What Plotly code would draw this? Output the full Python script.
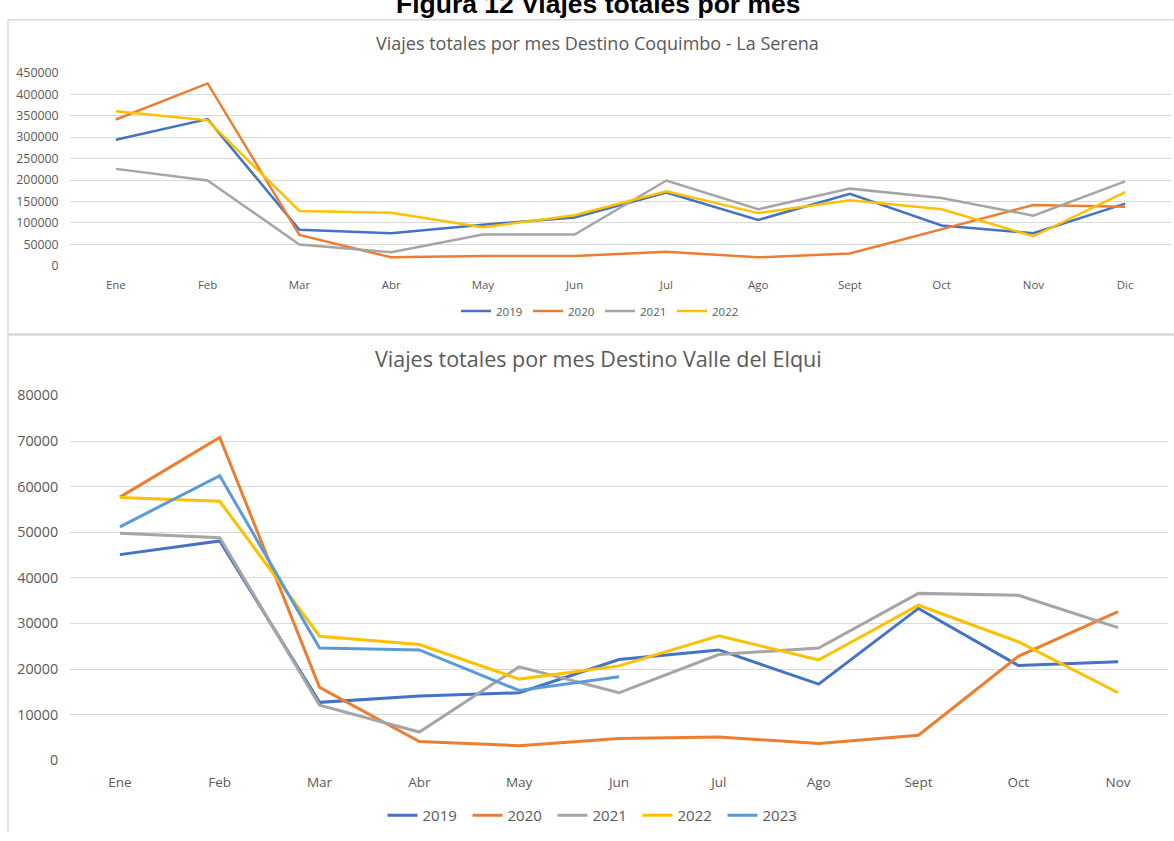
import plotly.graph_objects as go

W, H = 1174, 841

# ---------------- Data ----------------
meses_top = ["Ene", "Feb", "Mar", "Abr", "May", "Jun", "Jul", "Ago", "Sept", "Oct", "Nov", "Dic"]
cs_2019 = [294000, 342000, 84000, 76000, 96000, 113000, 171000, 107000, 168000, 94000, 76000, 145000]
cs_2020 = [341000, 425000, 72000, 20000, 23000, 23000, 33000, 20000, 29000, 85000, 142000, 138000]
cs_2021 = [226000, 199000, 50000, 32000, 73000, 73000, 199000, 132000, 180000, 158000, 117000, 197000]
cs_2022 = [360000, 339000, 128000, 124000, 90000, 118000, 174000, 123000, 153000, 132000, 69000, 172000]

meses_bot = ["Ene", "Feb", "Mar", "Abr", "May", "Jun", "Jul", "Ago", "Sept", "Oct", "Nov"]
ve_2019 = [45100, 48100, 12700, 14100, 14800, 22100, 24200, 16700, 33300, 20800, 21600]
ve_2020 = [57700, 70800, 16000, 4100, 3200, 4800, 5100, 3700, 5500, 22800, 32600]
ve_2021 = [49800, 48800, 12100, 6200, 20500, 14800, 23200, 24600, 36600, 36200, 29100]
ve_2022 = [57600, 56800, 27200, 25400, 17800, 20700, 27300, 22000, 34000, 26000, 14800]
ve_2023 = [51200, 62400, 24600, 24200, 15300, 18300]

years_top = ["2019", "2020", "2021", "2022"]
years_bot = ["2019", "2020", "2021", "2022", "2023"]

colors = {"2019": "#4472C4", "2020": "#ED7D31", "2021": "#A5A5A5",
          "2022": "#FFC000", "2023": "#5B9BD5"}

top_series = dict(zip(years_top, [cs_2019, cs_2020, cs_2021, cs_2022]))
bot_series = dict(zip(years_bot, [ve_2019, ve_2020, ve_2021, ve_2022, ve_2023]))

FONT = "Open Sans"
GRAY = "#595959"
GRID = "#d9d9d9"

def px_x(p):
    return p / W

def px_y(p):
    return 1 - p / H

fig = go.Figure()

for yr in years_top:
    fig.add_trace(go.Scatter(
        x=meses_top[:len(top_series[yr])], y=top_series[yr], name=yr,
        mode="lines", line=dict(color=colors[yr], width=2.5),
        xaxis="x", yaxis="y", legend="legend"))

for yr in years_bot:
    fig.add_trace(go.Scatter(
        x=meses_bot[:len(bot_series[yr])], y=bot_series[yr], name=yr,
        mode="lines", line=dict(color=colors[yr], width=3),
        xaxis="x2", yaxis="y2", legend="legend2"))

fig.update_layout(
    width=W, height=H,
    margin=dict(l=0, r=0, t=0, b=0),
    paper_bgcolor="white", plot_bgcolor="white",
    font=dict(family=FONT, color=GRAY),
    xaxis=dict(domain=[px_x(70), px_x(1171)], type="category",
               categoryorder="array", categoryarray=meses_top,
               range=[-0.5, len(meses_top) - 0.5],
               showgrid=False, zeroline=False, showline=False,
               ticks="outside", ticklen=8, tickcolor="rgba(0,0,0,0)",
               tickfont=dict(size=11.5, color=GRAY, family=FONT), anchor="y"),
    yaxis=dict(domain=[px_y(262), px_y(64)], range=[-400, 450400],
               dtick=50000, tick0=0, showgrid=True, gridcolor=GRID, gridwidth=1,
               zeroline=False, showline=False,
               ticks="outside", ticklen=8, tickcolor="rgba(0,0,0,0)",
               tickformat="d",
               tickfont=dict(size=12.3, color=GRAY, family=FONT), anchor="x"),
    xaxis2=dict(domain=[px_x(70), px_x(1168)], type="category",
                categoryorder="array", categoryarray=meses_bot,
                range=[-0.5, len(meses_bot) - 0.5],
                showgrid=False, zeroline=False, showline=False,
                ticks="outside", ticklen=9, tickcolor="rgba(0,0,0,0)",
                tickfont=dict(size=13.5, color=GRAY, family=FONT), anchor="y2"),
    yaxis2=dict(domain=[px_y(768), px_y(394)], range=[-80, 80080],
                dtick=10000, tick0=0, showgrid=True, gridcolor=GRID, gridwidth=1,
                zeroline=False, showline=False,
                ticks="outside", ticklen=8, tickcolor="rgba(0,0,0,0)",
                tickformat="d",
                tickfont=dict(size=14.3, color=GRAY, family=FONT), anchor="x2"),
    legend=dict(orientation="h", x=px_x(600), y=px_y(308), xanchor="center", yanchor="middle",
                font=dict(size=11.5, color=GRAY, family=FONT), bgcolor="rgba(0,0,0,0)",
                itemwidth=30, entrywidth=27, traceorder="normal"),
    legend2=dict(orientation="h", x=px_x(595), y=px_y(824), xanchor="center", yanchor="middle",
                 font=dict(size=15, color=GRAY, family=FONT), bgcolor="rgba(0,0,0,0)",
                 itemwidth=30, entrywidth=40, traceorder="normal"),
    showlegend=True,
)

# Titles
fig.add_annotation(text="<b>Figura 12 Viajes totales por mes</b>", xref="paper", yref="paper",
                   x=px_x(598), y=px_y(11), xanchor="center", yanchor="bottom", showarrow=False,
                   font=dict(family="Liberation Sans, Arial", size=26.5, color="black"))
fig.add_annotation(text="Viajes totales por mes Destino Coquimbo - La Serena", xref="paper", yref="paper",
                   x=px_x(597), y=px_y(34), xanchor="center", yanchor="middle", showarrow=False,
                   font=dict(family=FONT, size=18, color=GRAY))
fig.add_annotation(text="Viajes totales por mes Destino Valle del Elqui", xref="paper", yref="paper",
                   x=px_x(598), y=px_y(357), xanchor="center", yanchor="middle", showarrow=False,
                   font=dict(family=FONT, size=21.5, color=GRAY))

# Chart frames
frame = dict(color="#d9d9d9", width=1.5)
fig.add_shape(type="line", xref="paper", yref="paper", x0=px_x(8), x1=1.0, y0=px_y(10), y1=px_y(10), line=frame)
fig.add_shape(type="line", xref="paper", yref="paper", x0=px_x(8), x1=1.0, y0=px_y(332), y1=px_y(332),
              line=dict(color="#d9d9d9", width=2.5))
fig.add_shape(type="line", xref="paper", yref="paper", x0=px_x(8), x1=px_x(8), y0=0, y1=px_y(10), line=frame)

# remove the default page margin so the figure fills the window exactly
fig.write_html("out.html", config={"displayModeBar": False},
               post_script="document.body.style.margin='0';document.body.style.overflow='hidden';")
